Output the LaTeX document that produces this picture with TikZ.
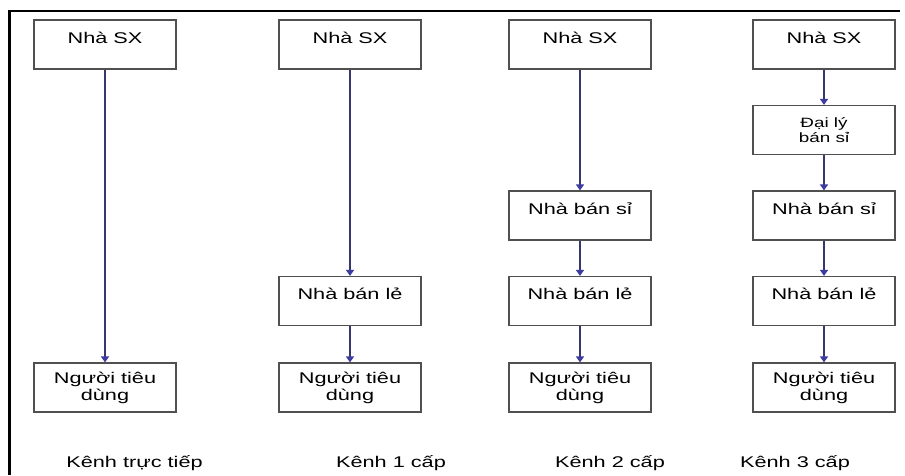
\documentclass[tikz,border=0pt]{standalone}
\usepackage{fontspec}
\setmainfont{Liberation Sans}[FakeStretch=1.4]
\definecolor{boxgray}{RGB}{80, 80, 80}
\definecolor{linenavy}{RGB}{55, 55, 110}
\definecolor{tipblue}{RGB}{60, 60, 160}
\usepackage{tikz}
\usetikzlibrary{arrows.meta, positioning}

\begin{document}
\begin{tikzpicture}[
  x=1pt, y=-1pt,
  kenhbox/.style={draw=boxgray, line width=1.2pt, minimum width=142pt, minimum height=49pt, inner sep=0pt, align=center, font=\fontsize{15.5}{17}\selectfont},
  oneline/.style={text height=12pt, text depth=15pt},
  flow/.style={draw=linenavy, line width=1.4pt, -{Triangle[width=8pt, length=6pt, color=tipblue]}},
  kenhlabel/.style={anchor=base, font=\fontsize{15.5}{17}\selectfont}
]
  \useasboundingbox (0, 0) rectangle (905, 475);
  \fill[white] (0, 0) rectangle (905, 475);
  \draw[line width=2.8pt] (9.5, 475) -- (9.5, 11) -- (900, 11);

  \node[kenhbox, oneline] (sx1) at (105, 44.5) {Nhà SX};
  \node[kenhbox] (ntd1) at (105, 387.5) {Người tiêu\\dùng};

  \node[kenhbox, oneline] (sx2) at (350, 44.5) {Nhà SX};
  \node[kenhbox, oneline] (bl2) at (350, 301) {Nhà bán lẻ};
  \node[kenhbox] (ntd2) at (350, 387.5) {Người tiêu\\dùng};

  \node[kenhbox, oneline] (sx3) at (580, 44.5) {Nhà SX};
  \node[kenhbox, oneline] (bs3) at (580, 215.5) {Nhà bán sỉ};
  \node[kenhbox, oneline] (bl3) at (580, 301) {Nhà bán lẻ};
  \node[kenhbox] (ntd3) at (580, 387.5) {Người tiêu\\dùng};

  \node[kenhbox, oneline] (sx4) at (824, 44.5) {Nhà SX};
  \node[kenhbox, font=\fontsize{13.5}{15}\selectfont] (dl4) at (824, 130) {Đại lý\\bán sỉ};
  \node[kenhbox, oneline] (bs4) at (824, 215.5) {Nhà bán sỉ};
  \node[kenhbox, oneline] (bl4) at (824, 301) {Nhà bán lẻ};
  \node[kenhbox] (ntd4) at (824, 387.5) {Người tiêu\\dùng};

  \draw[flow] (sx1) -- (ntd1);

  \draw[flow] (sx2) -- (bl2);
  \draw[flow] (bl2) -- (ntd2);

  \draw[flow] (sx3) -- (bs3);
  \draw[flow] (bs3) -- (bl3);
  \draw[flow] (bl3) -- (ntd3);

  \draw[flow] (sx4) -- (dl4);
  \draw[flow] (dl4) -- (bs4);
  \draw[flow] (bs4) -- (bl4);
  \draw[flow] (bl4) -- (ntd4);

  \node[kenhlabel] (lbl1) at (134.5, 467) {Kênh trực tiếp};
  \node[kenhlabel] (lbl2) at (391, 467) {Kênh 1 cấp};
  \node[kenhlabel] (lbl3) at (610, 467) {Kênh 2 cấp};
  \node[kenhlabel] (lbl4) at (795, 467) {Kênh 3 cấp};
\end{tikzpicture}
\end{document}
